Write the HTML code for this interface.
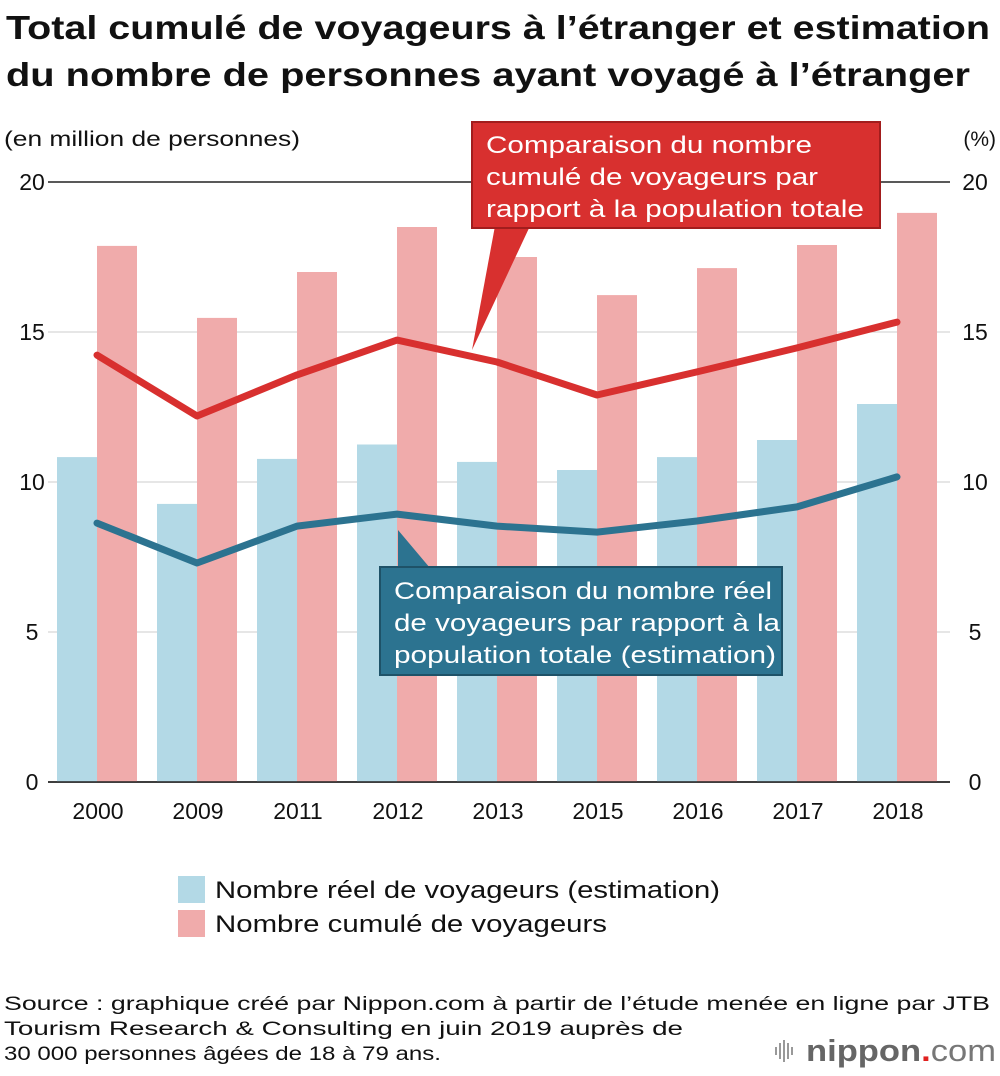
<!DOCTYPE html>
<html><head><meta charset="utf-8"><style>
body{margin:0;background:#fff;font-family:"Liberation Sans",Arial,sans-serif;}
svg{display:block}
</style></head><body>
<svg id="c" width="1000" height="1076" xmlns="http://www.w3.org/2000/svg" font-family="Liberation Sans, Arial, sans-serif">
<text x="6" y="39" font-size="33" font-weight="bold" fill="#111" textLength="984" lengthAdjust="spacingAndGlyphs">Total cumulé de voyageurs à l’étranger et estimation</text>
<text x="6" y="86" font-size="33" font-weight="bold" fill="#111" textLength="964" lengthAdjust="spacingAndGlyphs">du nombre de personnes ayant voyagé à l’étranger</text>
<text x="4" y="146" font-size="21" fill="#111" textLength="296" lengthAdjust="spacingAndGlyphs">(en million de personnes)</text>
<text x="996" y="146" font-size="21" fill="#111" text-anchor="end">(%)</text>
<g id="grid"></g><g id="bars"></g><g id="lines"></g><g id="axes"></g>
<g>
<polygon points="495,226 530,226 472,350" fill="#d8302f"/>
<rect x="472" y="122" width="408" height="106" fill="#d8302f" stroke="#a21d1d" stroke-width="2"/>
<text fill="#fff" font-size="24"><tspan x="486" y="153" textLength="326" lengthAdjust="spacingAndGlyphs">Comparaison du nombre</tspan><tspan x="486" y="185" textLength="332" lengthAdjust="spacingAndGlyphs">cumulé de voyageurs par</tspan><tspan x="486" y="217" textLength="378" lengthAdjust="spacingAndGlyphs">rapport à la population totale</tspan></text>
</g>
<g>
<polygon points="398,530 398,568 430,568" fill="#2c7390"/>
<rect x="380" y="567" width="402" height="108" fill="#2c7390" stroke="#1e5268" stroke-width="2"/>
<text fill="#fff" font-size="24"><tspan x="394" y="599" textLength="378" lengthAdjust="spacingAndGlyphs">Comparaison du nombre réel</tspan><tspan x="394" y="631" textLength="386" lengthAdjust="spacingAndGlyphs">de voyageurs par rapport à la</tspan><tspan x="394" y="663" textLength="382" lengthAdjust="spacingAndGlyphs">population totale (estimation)</tspan></text>
</g>
<rect x="178" y="876" width="27" height="27" fill="#b3d9e6"/>
<text x="215" y="898" font-size="24" fill="#111" textLength="505" lengthAdjust="spacingAndGlyphs">Nombre réel de voyageurs (estimation)</text>
<rect x="178" y="910" width="27" height="27" fill="#f0abab"/>
<text x="215" y="932" font-size="24" fill="#111" textLength="392" lengthAdjust="spacingAndGlyphs">Nombre cumulé de voyageurs</text>
<text font-size="19" fill="#111"><tspan x="4" y="1010" textLength="986" lengthAdjust="spacingAndGlyphs">Source : graphique créé par Nippon.com à partir de l’étude menée en ligne par JTB</tspan><tspan x="4" y="1035" textLength="679" lengthAdjust="spacingAndGlyphs">Tourism Research &amp; Consulting en juin 2019 auprès de</tspan><tspan x="4" y="1060" textLength="437" lengthAdjust="spacingAndGlyphs">30 000 personnes âgées de 18 à 79 ans.</tspan></text>
<g>
<g fill="#999"><rect x="775" y="1047" width="2" height="8"/><rect x="779" y="1043" width="2" height="16"/><rect x="783" y="1040" width="2" height="22"/><rect x="787" y="1043" width="2" height="16"/><rect x="791" y="1047" width="2" height="8"/></g>
<text x="806" y="1061" font-size="31" fill="#666" font-weight="bold" textLength="190" lengthAdjust="spacingAndGlyphs">nippon<tspan fill="#e0211f">.</tspan><tspan font-weight="normal" fill="#777">com</tspan></text>
</g>
</svg>
<script>
const categories=["2000","2009","2011","2012","2013","2015","2016","2017","2018"];
const realTravelers=[10.83,9.27,10.77,11.25,10.67,10.4,10.83,11.4,12.6];
const cumulativeTravelers=[17.87,15.47,17.0,18.5,17.5,16.23,17.13,17.9,18.97];
const cumulativeRatio=[14.23,12.2,13.57,14.73,14.0,12.9,13.67,14.47,15.33];
const realRatio=[8.63,7.3,8.53,8.93,8.53,8.33,8.7,9.17,10.17];
const ticks=[0,5,10,15,20];
const NS="http://www.w3.org/2000/svg";
const y=v=>782-v*30, x=i=>97+i*100;
function mk(t,a,p){const e=document.createElementNS(NS,t);for(const k in a)e.setAttribute(k,a[k]);p.appendChild(e);return e;}
const G=document.getElementById('grid'),B=document.getElementById('bars'),L=document.getElementById('lines'),A=document.getElementById('axes');
ticks.forEach(t=>{
 const l=mk('line',{x1:48,x2:950,y1:y(t),y2:y(t),stroke:t==20||t==0?'#222':'#ccc','stroke-width':t==20||t==0?1.5:1},G);
 
 
 const a=mk('text',{x:32,y:y(t)+8,'font-size':23,'text-anchor':'middle',fill:'#111'},A);a.textContent=t;
 
 
 const b=mk('text',{x:975,y:y(t)+8,'font-size':23,'text-anchor':'middle',fill:'#111'},A);b.textContent=t;
 
 
});
categories.forEach((c,i)=>{
 const r=mk('rect',{x:x(i)-40,y:y(realTravelers[i]),width:40,height:realTravelers[i]*30,fill:'#b3d9e6'},B);
 
 
 const s=mk('rect',{x:x(i),y:y(cumulativeTravelers[i]),width:40,height:cumulativeTravelers[i]*30,fill:'#f0abab'},B);
 
 
 const t=mk('text',{x:x(i)+1,y:819,'font-size':23,'text-anchor':'middle',fill:'#111'},A);t.textContent=c;
 
 
});
const zero=mk('line',{x1:48,x2:950,y1:782,y2:782,stroke:'#222','stroke-width':1.5},A);


const p1=mk('polyline',{points:cumulativeRatio.map((v,i)=>x(i)+','+y(v)).join(' '),fill:'none',stroke:'#d8302f','stroke-width':7,'stroke-linejoin':'round','stroke-linecap':'round'},L);


const p2=mk('polyline',{points:realRatio.map((v,i)=>x(i)+','+y(v)).join(' '),fill:'none',stroke:'#2c7390','stroke-width':7,'stroke-linejoin':'round','stroke-linecap':'round'},L);


</script>
</body></html>
